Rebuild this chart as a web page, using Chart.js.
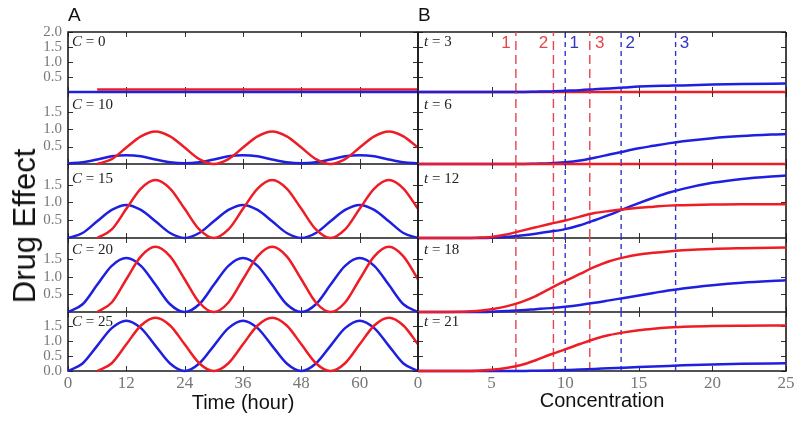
<!DOCTYPE html>
<html>
<head>
<meta charset="utf-8">
<script src="https://cdn.jsdelivr.net/npm/chart.js@4.4.1/dist/chart.umd.min.js"></script>
<style>
    html, body { margin: 0; padding: 0; background: #fff; }
    #fig { position: relative; width: 800px; height: 423px; overflow: hidden; }
    #fig canvas { position: absolute; }
    .lbl { position: absolute; white-space: nowrap; line-height: 18px; }
    .panel { font: 19px "Liberation Sans", Arial, sans-serif; color: #111; }
    .row { font: 15px "Liberation Serif", "Times New Roman", serif; color: #222; }
    .axis { font: 20px "Liberation Sans", Arial, sans-serif; color: #111; }
</style>
</head>
<body>
<div id="fig"></div>
<script>
// Panel A: drug effect over time, one row per concentration
const concLevels = [0, 10, 15, 20, 25];
const hours = [0, 3, 6, 9, 12, 15, 18, 21, 24, 27, 30, 33, 36, 39, 42, 45, 48, 51, 54, 57, 60, 63, 66, 69, 72];

const blueA = [
    [0, 0, 0, 0, 0, 0, 0, 0, 0, 0, 0, 0, 0, 0, 0, 0, 0, 0, 0, 0, 0, 0, 0, 0, 0],
    [0.02, 0.05, 0.13, 0.22, 0.25, 0.22, 0.13, 0.05, 0.02, 0.05, 0.13, 0.22, 0.25, 0.22, 0.13, 0.05, 0.02, 0.05, 0.13, 0.22, 0.25, 0.22, 0.13, 0.05, 0.02],
    [0, 0.14, 0.47, 0.79, 0.93, 0.79, 0.47, 0.14, 0, 0.14, 0.47, 0.79, 0.93, 0.79, 0.47, 0.14, 0, 0.14, 0.47, 0.79, 0.93, 0.79, 0.47, 0.14, 0],
    [0, 0.22, 0.77, 1.31, 1.53, 1.31, 0.77, 0.22, 0, 0.22, 0.77, 1.31, 1.53, 1.31, 0.77, 0.22, 0, 0.22, 0.77, 1.31, 1.53, 1.31, 0.77, 0.22, 0],
    [0, 0.25, 0.84, 1.43, 1.68, 1.43, 0.84, 0.25, 0, 0.25, 0.84, 1.43, 1.68, 1.43, 0.84, 0.25, 0, 0.25, 0.84, 1.43, 1.68, 1.43, 0.84, 0.25, 0]
];
const redA = [
    [null, null, 0.08, 0.08, 0.08, 0.08, 0.08, 0.08, 0.08, 0.08, 0.08, 0.08, 0.08, 0.08, 0.08, 0.08, 0.08, 0.08, 0.08, 0.08, 0.08, 0.08, 0.08, 0.08, 0.08],
    [null, null, 0, 0.14, 0.47, 0.79, 0.93, 0.79, 0.47, 0.14, 0, 0.14, 0.47, 0.79, 0.93, 0.79, 0.47, 0.14, 0, 0.14, 0.47, 0.79, 0.93, 0.79, 0.47],
    [null, null, 0, 0.24, 0.82, 1.39, 1.63, 1.39, 0.82, 0.24, 0, 0.24, 0.82, 1.39, 1.63, 1.39, 0.82, 0.24, 0, 0.24, 0.82, 1.39, 1.63, 1.39, 0.82],
    [null, null, 0, 0.27, 0.93, 1.58, 1.85, 1.58, 0.93, 0.27, 0, 0.27, 0.93, 1.58, 1.85, 1.58, 0.93, 0.27, 0, 0.27, 0.93, 1.58, 1.85, 1.58, 0.93],
    [null, null, 0, 0.26, 0.89, 1.52, 1.78, 1.52, 0.89, 0.26, 0, 0.26, 0.89, 1.52, 1.78, 1.52, 0.89, 0.26, 0, 0.26, 0.89, 1.52, 1.78, 1.52, 0.89]
];

// Panel B: drug effect against concentration, one row per time point
const timeLevels = [3, 6, 12, 18, 21];
const conc = [0, 2, 4, 5, 6, 7, 8, 9, 10, 11, 12, 13, 14, 15, 16, 17, 18, 20, 22, 25];

const blueB = [
    [0, 0, 0, 0, 0, 0, 0.01, 0.02, 0.04, 0.06, 0.09, 0.12, 0.15, 0.18, 0.2, 0.21, 0.22, 0.25, 0.27, 0.28],
    [0, 0, 0, 0, 0, 0, 0.01, 0.02, 0.05, 0.1, 0.18, 0.27, 0.36, 0.45, 0.52, 0.59, 0.65, 0.74, 0.8, 0.86],
    [0, 0, 0, 0.01, 0.03, 0.07, 0.12, 0.18, 0.25, 0.36, 0.5, 0.65, 0.82, 0.98, 1.13, 1.27, 1.38, 1.55, 1.66, 1.76],
    [0, 0, 0, 0.01, 0.03, 0.05, 0.08, 0.11, 0.15, 0.2, 0.26, 0.33, 0.4, 0.47, 0.54, 0.61, 0.67, 0.76, 0.83, 0.9],
    [0, 0, 0, 0, 0, 0, 0.01, 0.02, 0.03, 0.05, 0.07, 0.09, 0.11, 0.13, 0.15, 0.17, 0.19, 0.22, 0.24, 0.26]
];
const redB = [
    [0, 0, 0, 0, 0, 0, 0, 0, 0, 0, 0, 0, 0, 0, 0, 0, 0, 0, 0, 0],
    [0, 0, 0, 0, 0, 0, 0, 0, 0, 0, 0, 0, 0, 0, 0, 0, 0, 0, 0, 0],
    [0, 0, 0.01, 0.03, 0.1, 0.2, 0.3, 0.4, 0.49, 0.6, 0.7, 0.76, 0.81, 0.85, 0.88, 0.91, 0.92, 0.94, 0.95, 0.95],
    [0, 0, 0.03, 0.08, 0.16, 0.28, 0.45, 0.67, 0.88, 1.08, 1.28, 1.44, 1.55, 1.63, 1.68, 1.72, 1.75, 1.79, 1.81, 1.83],
    [0, 0, 0.01, 0.04, 0.1, 0.2, 0.36, 0.55, 0.72, 0.9, 1.07, 1.2, 1.29, 1.36, 1.41, 1.45, 1.48, 1.5, 1.51, 1.52]
];

// vertical markers in panel B
const redCuts = [6.65, 9.2, 11.67];
const blueCuts = [10.0, 13.8, 17.5];
const cutNames = ['1', '2', '3'];

// axis ticks
const xTicksA = [0, 12, 24, 36, 48, 60, 72];
const xTicksB = [0, 5, 10, 15, 20, 25];
const yTickVals = [
    [0.5, 1.0, 1.5, 2.0],
    [0.5, 1.0, 1.5],
    [0.5, 1.0, 1.5],
    [0.5, 1.0, 1.5],
    [0.0, 0.5, 1.0, 1.5]
];
const yMax = [2.0, 2.06, 2.08, 2.1, 1.97];

// layout
const rowTop = [32, 92, 164, 238, 312];
const rowBottom = [92, 164, 238, 312, 371];
const labelDy = [1, 4, 6, 3, 1];
const PAD_T = 14;
const PAD_B = 6;
const X_AXIS_H = 24;

const RED = '#ee1d25';
const BLUE = '#1f1fe0';
const RED_DASH = '#e4464b';
const BLUE_DASH = '#3434c4';
const SERIF = '"Liberation Serif", "Times New Roman", serif';
const SANS = '"Liberation Sans", Arial, sans-serif';

const fig = document.getElementById('fig');

function addCanvas(left, top, w, h) {
    const cv = document.createElement('canvas');
    cv.width = w;
    cv.height = h;
    cv.style.left = left + 'px';
    cv.style.top = top + 'px';
    cv.style.width = w + 'px';
    cv.style.height = h + 'px';
    fig.appendChild(cv);
    return cv;
}

function addLabel(cls, html, left, top, extra) {
    const d = document.createElement('div');
    d.className = 'lbl ' + cls;
    d.innerHTML = html;
    d.style.left = left + 'px';
    d.style.top = top + 'px';
    if (extra) Object.assign(d.style, extra);
    fig.appendChild(d);
}

const pts = (xs, ys) => xs.map((x, i) => ({ x: x, y: ys[i] }));

// frame + inward tick marks (matplotlib style), and the 1/2/3 marker labels
const framePlugin = {
    id: 'frame',
    beforeDatasetsDraw(chart, args, o) {
        const { ctx, chartArea: a } = chart;
        const x = chart.scales.x, y = chart.scales.y;
        ctx.save();
        ctx.strokeStyle = '#333';
        ctx.lineWidth = 1;
        ctx.beginPath();
        o.xt.forEach(v => {
            const px = Math.round(x.getPixelForValue(v)) + 0.5;
            ctx.moveTo(px, a.top); ctx.lineTo(px, a.top + 5);
            ctx.moveTo(px, a.bottom); ctx.lineTo(px, a.bottom - 5);
        });
        o.yt.forEach(v => {
            const py = Math.round(y.getPixelForValue(v)) + 0.5;
            ctx.moveTo(a.left, py); ctx.lineTo(a.left + 5, py);
            ctx.moveTo(a.right, py); ctx.lineTo(a.right - 5, py);
        });
        ctx.stroke();
        ctx.strokeStyle = '#1a1a1a';
        ctx.lineWidth = 1.6;
        ctx.beginPath();
        ctx.moveTo(a.right, a.top);
        ctx.lineTo(a.right, a.bottom);
        ctx.lineTo(a.left, a.bottom);
        ctx.lineTo(a.left, a.top);
        if (o.top) ctx.lineTo(a.right, a.top);
        ctx.stroke();
        ctx.restore();
    },
    afterDatasetsDraw(chart, args, o) {
        if (!o.cuts) return;
        const { ctx, chartArea: a } = chart;
        const x = chart.scales.x;
        ctx.save();
        ctx.font = '17px ' + SANS;
        ctx.textAlign = 'center';
        ctx.textBaseline = 'middle';
        const ty = a.top + 11;
        redCuts.forEach((c, i) => {
            ctx.fillStyle = RED_DASH;
            ctx.fillText(cutNames[i], x.getPixelForValue(c) + (i < 2 ? -10 : 10), ty);
        });
        blueCuts.forEach((c, i) => {
            ctx.fillStyle = BLUE_DASH;
            ctx.fillText(cutNames[i], x.getPixelForValue(c) + 9, ty);
        });
        ctx.restore();
    }
};

function curve(data, color, order) {
    return {
        data: data,
        borderColor: color,
        borderWidth: 2.5,
        pointRadius: 0,
        fill: false,
        cubicInterpolationMode: 'monotone',
        clip: 4,
        order: order
    };
}

function cutLine(c, r, color, dash) {
    return {
        data: [{ x: c, y: 0 }, { x: c, y: yMax[r] }],
        borderColor: color,
        borderWidth: 1.4,
        borderDash: dash,
        pointRadius: 0,
        fill: false,
        clip: 0,
        order: 5
    };
}

function makeRow(isA, r) {
    const last = r === 4;
    const rowH = rowBottom[r] - rowTop[r];
    const left = isA ? 0 : 410;
    const width = isA ? 430 : 390;
    const height = PAD_T + rowH + (last ? X_AXIS_H : PAD_B);
    const cv = addCanvas(left, rowTop[r] - PAD_T, width, height);

    // red drawn over blue, except in the top row where blue lies on top
    const redOrder = r === 0 ? 2 : 1;
    const blueOrder = r === 0 ? 1 : 2;
    let datasets;
    if (isA) {
        datasets = [curve(pts(hours, redA[r]), RED, redOrder), curve(pts(hours, blueA[r]), BLUE, blueOrder)];
    } else {
        datasets = [curve(pts(conc, redB[r]), RED, redOrder), curve(pts(conc, blueB[r]), BLUE, blueOrder)];
        redCuts.forEach(c => datasets.push(cutLine(c, r, RED_DASH, [9, 5])));
        blueCuts.forEach(c => datasets.push(cutLine(c, r, BLUE_DASH, [5, 4])));
    }

    new Chart(cv.getContext('2d'), {
        type: 'line',
        data: { datasets: datasets },
        options: {
            responsive: false,
            animation: false,
            devicePixelRatio: 1,
            events: [],
            layout: {
                padding: {
                    left: isA ? 0 : 8,
                    right: isA ? 12 : 14,
                    top: PAD_T,
                    bottom: last ? 0 : PAD_B
                }
            },
            scales: {
                x: {
                    type: 'linear',
                    min: 0,
                    max: isA ? 72 : 25,
                    display: last,
                    grid: { display: false, drawTicks: false },
                    border: { display: false },
                    afterBuildTicks: s => { s.ticks = (isA ? xTicksA : xTicksB).map(v => ({ value: v })); },
                    afterFit: s => {
                        if (last) s.height = X_AXIS_H;
                        s.paddingLeft = 0;
                        s.paddingRight = 0;
                    },
                    ticks: {
                        font: { family: SERIF, size: 17 },
                        color: '#777',
                        padding: 2,
                        maxRotation: 0,
                        autoSkip: false,
                        callback: v => (isA && v === 72) ? '' : String(v)
                    }
                },
                y: {
                    type: 'linear',
                    min: 0,
                    max: yMax[r],
                    display: isA,
                    grid: { display: false, drawTicks: false },
                    border: { display: false },
                    afterBuildTicks: s => { s.ticks = yTickVals[r].map(v => ({ value: v })); },
                    afterFit: s => {
                        if (isA) s.width = 68;
                        s.paddingTop = 0;
                        s.paddingBottom = 0;
                    },
                    ticks: {
                        font: { family: SERIF, size: 15 },
                        color: '#777',
                        padding: 6,
                        autoSkip: false,
                        callback: v => Number(v).toFixed(1)
                    }
                }
            },
            plugins: {
                legend: { display: false },
                tooltip: { enabled: false },
                frame: {
                    top: r === 0,
                    xt: isA ? xTicksA : xTicksB,
                    yt: yTickVals[r],
                    cuts: !isA && r === 0
                }
            }
        },
        plugins: [framePlugin]
    });

    // row label, e.g. "C = 10" / "t = 12"
    const txt = isA ? '<i>C</i> = ' + concLevels[r] : '<i>t</i> = ' + timeLevels[r];
    addLabel('row', txt, isA ? 72 : 424, rowTop[r] + labelDy[r]);
}

for (let r = 0; r < 5; r++) makeRow(true, r);
for (let r = 0; r < 5; r++) makeRow(false, r);

addLabel('panel', 'A', 68, 4);
addLabel('panel', 'B', 418, 4);
addLabel('axis', 'Time (hour)', 243, 402, { transform: 'translate(-50%, -50%)' });
addLabel('axis', 'Concentration', 602, 400, { transform: 'translate(-50%, -50%)' });
addLabel('axis', 'Drug Effect', 25, 226, { transform: 'translate(-50%, -50%) rotate(-90deg)', fontSize: '31px', lineHeight: '34px' });
</script>
</body>
</html>
